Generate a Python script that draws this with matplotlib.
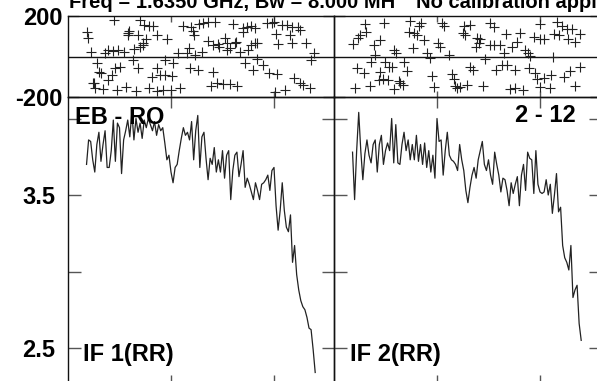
import numpy as np
import matplotlib
matplotlib.use("Agg")
import matplotlib.pyplot as plt
from matplotlib.ticker import FixedLocator, FixedFormatter

plt.rcParams['font.family'] = ['Liberation Sans', 'DejaVu Sans']
plt.rcParams['font.weight'] = 'bold'

# ---------------- data ----------------
title_left = "Freq = 1.6350 GHz, Bw = 8.000 MH"
title_right = "No calibration applied"
baseline_labels = ["EB - RO", "2 - 12"]
if_labels = ["IF 1(RR)", "IF 2(RR)"]

channels = np.arange(9, 121)

amp_if1 = [3.70, 3.86, 3.85, 3.73, 3.65, 3.83, 3.91, 3.72, 3.83, 3.92,
           3.68, 3.68, 3.79, 3.99, 3.72, 3.97, 3.94, 3.64, 3.86, 3.92,
           3.99, 3.88, 4.04, 3.86, 4.00, 3.91, 3.97, 3.87, 3.99, 3.94,
           4.00, 3.96, 3.92, 3.98, 3.89, 3.96, 3.92, 3.94, 3.84, 3.73,
           3.76, 3.65, 3.58, 3.68, 3.70, 3.79, 3.87, 3.94, 3.89, 3.91,
           3.86, 3.98, 3.73, 3.92, 4.02, 3.68, 3.88, 3.91, 3.74, 3.60,
           3.74, 3.70, 3.81, 3.65, 3.73, 3.65, 3.79, 3.61, 3.76, 3.79,
           3.47, 3.66, 3.76, 3.78, 3.62, 3.70, 3.79, 3.55, 3.61, 3.57,
           3.52, 3.47, 3.58, 3.53, 3.47, 3.57, 3.58, 3.60, 3.63, 3.53,
           3.66, 3.68, 3.43, 3.27, 3.40, 3.58, 3.40, 3.29, 3.26, 3.37,
           3.06, 3.17, 2.98, 2.88, 2.81, 2.77, 2.75, 2.70, 2.63, 2.62,
           2.49, 2.34]

amp_if2 = [3.78, 3.47, 3.79, 4.04, 3.79, 3.60, 3.77, 3.86, 3.76, 3.71,
           3.83, 3.86, 3.65, 3.83, 3.89, 3.70, 3.79, 3.84, 3.79, 4.00,
           3.71, 3.96, 3.71, 3.70, 3.83, 3.91, 3.79, 3.86, 3.73, 3.83,
           3.73, 3.89, 3.72, 3.83, 3.70, 3.84, 3.68, 3.79, 3.65, 3.76,
           3.61, 4.00, 3.85, 3.86, 3.63, 3.79, 3.91, 3.76, 3.73, 3.72,
           3.70, 3.66, 3.83, 3.73, 3.66, 3.53, 3.45, 3.55, 3.63, 3.68,
           3.61, 3.73, 3.79, 3.85, 3.70, 3.66, 3.73, 3.63, 3.57, 3.78,
           3.70, 3.63, 3.52, 3.61, 3.60, 3.53, 3.43, 3.58, 3.51, 3.57,
           3.62, 3.43, 3.63, 3.70, 3.53, 3.78, 3.74, 3.73, 3.51, 3.79,
           3.57, 3.52, 3.51, 3.52, 3.60, 3.50, 3.57, 3.38, 3.50, 3.64,
           3.39, 3.42, 3.17, 3.09, 3.06, 3.01, 3.17, 2.83, 2.88, 2.91,
           2.66, 2.55]

phase_if1_ch = [9.4, 9.9, 11.0, 12.3, 12.8, 13.1, 14.2, 15.1, 15.9, 17.2, 18.0, 19.3, 19.6, 21.2,
                22.0, 22.5, 22.8, 23.6, 24.4, 25.3, 27.4, 28.2, 29.0, 29.3, 29.8, 31.4, 32.0, 33.0,
                33.8, 34.2, 35.0, 35.0, 36.3, 36.6, 36.9, 37.9, 39.2, 39.3, 40.6, 41.4, 43.1, 43.1,
                43.1, 44.7, 46.0, 47.1, 47.1, 47.9, 49.8, 50.3, 50.8, 53.6, 54.4, 55.7, 57.6, 58.9,
                59.2, 59.7, 60.5, 61.2, 61.7, 63.3, 63.8, 64.9, 65.7, 67.8, 68.1, 69.3, 70.2, 70.6,
                71.4, 72.5, 73.0, 73.5, 75.1, 76.2, 77.0, 77.3, 78.6, 78.6, 80.3, 81.1, 81.6, 82.2,
                83.5, 84.8, 85.1, 85.9, 86.7, 87.5, 88.7, 88.9, 89.7, 90.8, 91.0, 91.6, 91.9, 94.8,
                96.4, 97.7, 99.2, 100.2, 100.5, 101.0, 101.3, 102.1, 103.7, 105.3, 106.2, 107.8,
                108.6, 108.7, 109.9, 111.8, 112.5, 112.8, 114.1, 115.7, 117.3, 118.0, 119.3]
phase_if1_deg = [119, 90, 24, -133, -129, -157, -34, -75, -83, -162, 15, 32, -116, -92,
                 29, 180, -59, -166, 32, -50, 24, -149, 114, 106, 127, -17, 35, -171,
                 106, -59, 180, 48, 57, 68, 155, 85, -157, 152, -103, 151, 106, -59,
                 -169, -92, -166, -17, -92, 85, -166, -97, -34, 19, -157, 151, 15, 43,
                 -59, 147, 127, 106, 7, -67, 160, 24, 164, 169, 78, -146, -75, 57,
                 169, -133, 60, 48, -138, 90, 68, 32, 43, -136, 160, 68, 70, -144,
                 24, 139, 119, -34, 147, 32, 57, 152, -67, 139, 65, 68, -13, -42,
                 164, -83, 167, 172, -174, 109, -87, 62, 155, -166, 155, 106,
                 65, 147, -108, 144, -131, 131, -141, 67, -156, -17, 17]

phase_if2_ch = [9.2, 10.4, 11.2, 11.6, 12.8, 14.4, 15.2, 15.7, 17.3, 17.9, 19.3, 20.1, 21.7, 22.2,
                22.2, 23.8, 24.4, 24.9, 26.1, 26.5, 28.1, 28.9, 29.3, 30.3, 31.4, 32.2, 33.5, 34.1,
                35.4, 36.2, 37.1, 38.3, 38.7, 40.3, 41.1, 42.2, 43.5, 45.1, 46.8, 47.6, 48.4, 50.3,
                51.6, 52.4, 53.2, 55.7, 57.3, 58.1, 58.6, 59.7, 61.3, 62.5, 62.9, 63.8, 64.6, 66.2,
                66.2, 67.5, 69.1, 69.4, 70.2, 71.0, 72.3, 73.5, 75.6, 75.9, 77.5, 77.8, 78.8, 80.4,
                81.6, 82.4, 83.5, 84.0, 85.6, 86.4, 88.0, 88.0, 88.8, 90.1, 91.7, 92.9, 94.0, 94.5,
                95.3, 96.9, 97.7, 98.5, 99.8, 99.8, 100.2, 101.8, 101.8, 104.7, 105.3, 106.3, 106.6,
                108.3, 109.1, 110.7, 111.5, 113.1, 113.4, 114.4, 115.5, 116.8, 117.2, 119.3, 119.6]
phase_if2_deg = [60, -157, -59, 90, 106, -80, 160, 123, -146, -26, 57, 7, -116, 81,
                 -75, -113, 167, -26, -116, -50, -50, 32, -162, 15, -120, -129, -141, -26,
                 -70, 123, 177, 40, 114, 106, 151, 164, 81, 19, -9, -97, -153, 68,
                 45, 167, 151, 7, -87, -113, -146, -157, -153, 114, 151, 106, -141, 155,
                 -50, -67, 48, 90, 65, 85, -146, -14, 167, 57, 147, 57, -67, 57,
                 -42, 19, 111, -42, -162, 48, -67, -157, 73, 118, -166, 32, 15, -59,
                 2, 98, -83, -113, 160, -153, 85, 85, -108, -157, -92, -1, 111,
                 172, 106, 151, -100, 134, 85, -70, 134, -146, 73, -50, 109]

amp_ticks = [2.5, 3.0, 3.5, 4.0]
amp_tick_labels = ["2.5", "", "3.5", ""]
phase_ticks = [-200, 200]
phase_tick_labels = ["-200", "200"]
chan_ticks = [50, 100]

# ---------------- layout ----------------
W, H = 597, 381
fig = plt.figure(figsize=(W / 100, H / 100), dpi=100)
fig.patch.set_facecolor('white')


def rect(x0, y0, x1, y1):
    return [x0 / W, 1 - y1 / H, (x1 - x0) / W, (y1 - y0) / H]


ink = '#111111'
tickc = '#555555'
fs = 17
fs_title = 14.5

panels = [(68, 334), (334, 601)]
amps = [amp_if1, amp_if2]
phs = [(phase_if1_ch, phase_if1_deg), (phase_if2_ch, phase_if2_deg)]

for i, (x0, x1) in enumerate(panels):
    axp = fig.add_axes(rect(x0, 16, x1, 97))
    axa = fig.add_axes(rect(x0, 97, x1, 386))
    for ax in (axp, axa):
        ax.set_xlim(0, (x1 - x0) / 2.06)
        for s in ax.spines.values():
            s.set_linewidth(1.0)
            s.set_color(ink)
        ax.xaxis.set_major_locator(FixedLocator(chan_ticks))
        ax.set_xticklabels([])
        ax.set_facecolor('none')
    # phase
    axp.set_ylim(-200, 200)
    axp.axhline(0, color=ink, lw=1.0)
    axp.plot(phs[i][0], phs[i][1], ls='none', marker='+', ms=6.5, mew=0.8, color='#222222')
    axp.yaxis.set_major_locator(FixedLocator(phase_ticks))
    axp.tick_params(axis='x', direction='in', length=4, width=1, color=tickc,
                    top=True, bottom=True)
    axp.tick_params(axis='y', direction='in', length=8, width=1, color=tickc,
                    left=True, right=True, labelsize=fs, pad=4)
    # amplitude
    top_val = 3.5 + (195 - 97) / 153
    bot_val = 3.5 - (386 - 195) / 153
    axa.set_ylim(bot_val, top_val)
    axa.plot(channels, amps[i], color='#222222', lw=0.9)
    axa.yaxis.set_major_locator(FixedLocator(amp_ticks))
    axa.tick_params(axis='x', direction='in', length=8, width=1, color=tickc,
                    top=True, bottom=True)
    axa.tick_params(axis='y', direction='in', length=9, width=1, color=tickc,
                    left=True, right=True, labelsize=fs, pad=9)
    if i == 0:
        axp.yaxis.set_major_formatter(FixedFormatter(phase_tick_labels))
        axa.yaxis.set_major_formatter(FixedFormatter(amp_tick_labels))
        for lab in axp.get_yticklabels() + axa.get_yticklabels():
            lab.set_fontweight('bold')
    else:
        axp.set_yticklabels([])
        axa.set_yticklabels([])


# figure-pixel texts (y from top)
def ftext(x, y, s, ha='left', va='center', size=fs):
    fig.text(x / W, 1 - y / H, s, fontsize=size, fontweight='bold', ha=ha, va=va, color='black')


ftext(69, 8, title_left, va='baseline', size=fs_title)
ftext(416, 8, title_right, va='baseline', size=fs_title)
ftext(75, 117, baseline_labels[0])
ftext(576, 116, baseline_labels[1], ha='right')
ftext(83, 355, if_labels[0])
ftext(350, 355, if_labels[1])

fig.savefig("out.png", dpi=100, facecolor='white')
